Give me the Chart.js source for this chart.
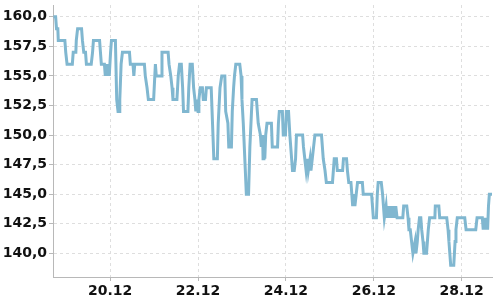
<!DOCTYPE html>
<html>
<head>
<meta charset="utf-8">
<script src="https://cdn.jsdelivr.net/npm/chart.js@4/dist/chart.umd.min.js"></script>
<style>
    html, body { margin: 0; padding: 0; background: #fff; }
    #wrap { width: 500px; height: 300px; }
</style>
</head>
<body>
<div id="wrap"><canvas id="price-chart"></canvas></div>
<script>
// time in days of december (20.5 = 20.12 noon), price
var days = [18.71, 18.76, 18.78, 18.81, 18.82, 18.97, 18.99, 19.02, 19.14, 19.16, 19.22, 19.23, 19.26, 19.35, 19.37, 19.40, 19.44, 19.46, 19.57, 19.60,
    19.62, 19.76, 19.78, 19.80, 19.87, 19.89, 19.92, 19.94, 19.96, 19.98, 20.01, 20.03, 20.12, 20.15, 20.18, 20.21, 20.22, 20.25, 20.28, 20.44,
    20.46, 20.52, 20.54, 20.56, 20.78, 20.80, 20.84, 20.87, 20.99, 21.03, 21.05, 21.16, 21.18, 21.32, 21.34, 21.38, 21.41, 21.43, 21.52, 21.55,
    21.58, 21.62, 21.65, 21.67, 21.77, 21.79, 21.82, 21.87, 21.90, 21.93, 21.95, 21.97, 22.00, 22.02, 22.05, 22.10, 22.12, 22.17, 22.19, 22.30,
    22.34, 22.36, 22.44, 22.46, 22.50, 22.54, 22.61, 22.63, 22.68, 22.70, 22.76, 22.78, 22.81, 22.83, 22.86, 22.95, 22.98, 23.00, 23.03, 23.10,
    23.15, 23.18, 23.23, 23.33, 23.35, 23.37, 23.42, 23.44, 23.47, 23.48, 23.50, 23.52, 23.54, 23.57, 23.67, 23.69, 23.81, 23.83, 23.85, 23.92,
    23.94, 23.99, 24.01, 24.06, 24.09, 24.13, 24.15, 24.19, 24.22, 24.24, 24.38, 24.40, 24.43, 24.46, 24.49, 24.51, 24.55, 24.57, 24.60, 24.63,
    24.66, 24.81, 24.83, 24.85, 24.89, 24.92, 25.06, 25.08, 25.10, 25.15, 25.17, 25.29, 25.31, 25.38, 25.40, 25.43, 25.48, 25.50, 25.52, 25.55,
    25.57, 25.60, 25.63, 25.74, 25.76, 25.95, 25.97, 25.99, 26.06, 26.08, 26.10, 26.17, 26.20, 26.22, 26.24, 26.28, 26.30, 26.32, 26.34, 26.37,
    26.39, 26.41, 26.43, 26.46, 26.48, 26.50, 26.53, 26.66, 26.68, 26.75, 26.78, 26.80, 26.83, 26.86, 26.89, 26.94, 26.96, 26.99, 27.01, 27.04,
    27.07, 27.09, 27.12, 27.14, 27.20, 27.22, 27.24, 27.27, 27.39, 27.40, 27.48, 27.50, 27.66, 27.69, 27.71, 27.73, 27.75, 27.82, 27.85, 27.87,
    27.90, 28.07, 28.10, 28.32, 28.35, 28.47, 28.49, 28.52, 28.54, 28.56, 28.59, 28.61, 28.63, 28.69]
var prices = [160, 160, 159, 159, 158, 158, 157, 156, 156, 157, 157, 158, 159, 159, 158, 157, 157, 156, 156, 157,
    158, 158, 157, 156, 156, 155, 156, 155, 156, 155, 157, 158, 158, 153, 152, 152, 153, 156, 157, 157,
    156, 156, 155, 156, 156, 155, 154, 153, 153, 156, 155, 155, 157, 157, 156, 155, 154, 153, 153, 155,
    156, 156, 154, 152, 152, 154, 156, 156, 154, 153, 152, 153, 152, 153, 154, 154, 153, 153, 154, 154,
    150, 148, 148, 151, 154, 155, 155, 152, 151, 149, 149, 152, 154, 155, 156, 156, 155, 153, 151, 145,
    145, 149, 153, 153, 152, 151, 150, 149, 150, 148, 149, 148, 150, 151, 151, 149, 149, 151, 152, 152,
    150, 150, 152, 152, 150, 148, 147, 147, 148, 150, 150, 149, 148, 147, 148, 147, 148, 147, 148, 149,
    150, 150, 149, 148, 147, 146, 146, 147, 148, 148, 147, 147, 148, 148, 147, 146, 146, 145, 144, 145,
    144, 145, 146, 146, 145, 145, 144, 143, 143, 145, 146, 146, 145, 144, 143, 144, 143, 144, 143, 144,
    143, 144, 143, 144, 143, 144, 143, 143, 144, 144, 143, 142, 142, 141, 140, 141, 140, 141, 142, 143,
    143, 142, 141, 140, 140, 141, 142, 143, 143, 144, 144, 143, 143, 142, 141, 140, 139, 139, 141, 142,
    143, 143, 142, 142, 143, 143, 142, 143, 142, 143, 142, 144, 145, 145]
var dayTicks = [20, 22, 24, 26, 28]
var month = '12'

var points = []
for (var i = 0; i < days.length; i++) {
    points.push({ x: days[i], y: prices[i] })
}

var labelFont = { family: 'DejaVu Sans', size: 14, weight: 'bold' }
var gridStyle = { color: '#dedede', lineWidth: 1, borderDash: [3, 3], tickColor: '#b8b8b8', tickLength: 4, tickBorderDash: [] }

var ctx = document.getElementById('price-chart').getContext('2d')
var chart = new Chart(ctx, {
    type: 'line',
    data: {
        datasets: [{
            data: points,
            borderColor: '#80b7d0',
            borderWidth: 3,
            pointRadius: 0,
            tension: 0,
            fill: false
        }]
    },
    options: {
        responsive: true,
        maintainAspectRatio: false,
        animation: false,
        layout: { padding: { left: 0, top: 5, right: 8, bottom: 0 } },
        plugins: { legend: { display: false }, tooltip: { enabled: false } },
        scales: {
            x: {
                type: 'linear',
                min: 18.7,
                max: 28.69,
                grid: gridStyle,
                border: { display: true, color: '#b8b8b8', width: 1, dash: [3, 3] },
                afterBuildTicks: function (scale) {
                    scale.ticks = dayTicks.map(function (d) { return { value: d } })
                },
                afterFit: function (scale) {
                    scale.height = 23
                    scale.paddingLeft = 0
                    scale.paddingRight = 0
                },
                ticks: {
                    font: labelFont,
                    color: '#111',
                    padding: 2,
                    maxRotation: 0,
                    autoSkip: false,
                    callback: function (v) { return v + '.' + month }
                }
            },
            y: {
                min: 138,
                max: 161,
                grid: gridStyle,
                border: { display: true, color: '#b8b8b8', width: 1, dash: [3, 3] },
                afterFit: function (scale) {
                    scale.width = 53
                    scale.paddingTop = 0
                    scale.paddingBottom = 0
                },
                ticks: {
                    stepSize: 2.5,
                    includeBounds: false,
                    font: labelFont,
                    color: '#111',
                    padding: 2,
                    callback: function (v) { return v.toFixed(1).replace('.', ',') }
                }
            }
        }
    }
})
</script>
</body>
</html>
